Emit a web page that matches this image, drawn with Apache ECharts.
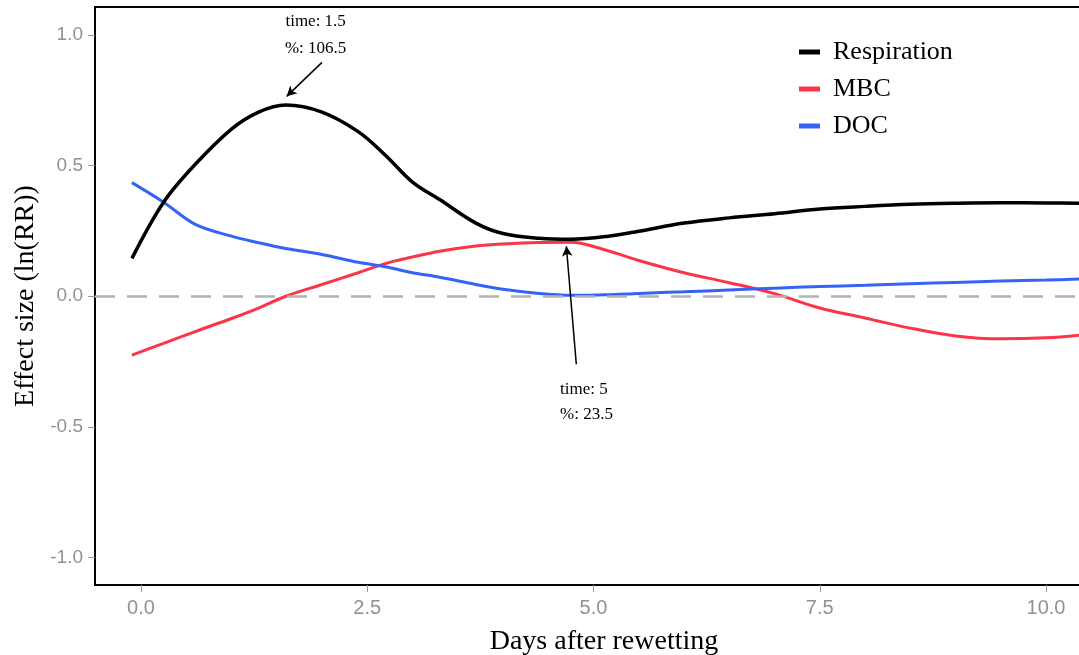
<!DOCTYPE html>
<html>
<head>
<meta charset="utf-8">
<script src="https://cdn.jsdelivr.net/npm/echarts@6/dist/echarts.min.js"></script>
<style>
  html, body { margin: 0; padding: 0; background: #fff; }
  #chart { width: 1079px; height: 655px; }
</style>
</head>
<body>
<div id="chart"></div>
<script>
// Days after rewetting (shared sampling for the fitted curves)
const days = [-0.1, 0.25, 0.6, 1.0, 1.3, 1.6, 2.0, 2.4, 2.7, 3.0, 3.3, 3.7, 4.0, 4.4, 4.75, 5.15, 5.5, 6.0, 6.5, 7.0, 7.5, 8.0, 8.5, 9.0, 9.5, 10.0, 10.4];

// Effect size ln(RR) per variable
const respiration = [0.145, 0.36, 0.505, 0.64, 0.705, 0.732, 0.705, 0.63, 0.54, 0.437, 0.37, 0.28, 0.24, 0.222, 0.218, 0.229, 0.249, 0.28, 0.30, 0.316, 0.334, 0.344, 0.352, 0.356, 0.358, 0.357, 0.356];
const mbc = [-0.225, -0.18, -0.135, -0.085, -0.045, 0.0, 0.045, 0.09, 0.125, 0.15, 0.172, 0.192, 0.2, 0.206, 0.207, 0.175, 0.137, 0.09, 0.052, 0.01, -0.045, -0.083, -0.122, -0.152, -0.163, -0.159, -0.148];
const doc = [0.435, 0.36, 0.275, 0.23, 0.205, 0.183, 0.16, 0.13, 0.113, 0.09, 0.073, 0.045, 0.027, 0.011, 0.004, 0.006, 0.011, 0.017, 0.024, 0.031, 0.037, 0.042, 0.048, 0.053, 0.058, 0.062, 0.066];

// Tick labels
const xTicks = [0, 2.5, 5, 7.5, 10];
const yTicks = [-1, -0.5, 0, 0.5, 1];

// Callouts: [text position, arrow tail, arrow head]
const peakNote = { text: 'time: 1.5\n%: 106.5', at: [1.93, 0.998], tail: [2.0, 0.895], head: [1.61, 0.765] };
const dipNote = { text: 'time: 5\n%: 23.5', at: [4.63, -0.405], tail: [4.81, -0.26], head: [4.70, 0.191] };

const serif = 'Liberation Serif';
const sans = "'Liberation Sans', sans-serif";

const pairs = ys => days.map((d, i) => [d, ys[i]]);

const chart = echarts.init(document.getElementById('chart'), null, { renderer: 'canvas' });

chart.setOption({
  backgroundColor: '#fff',
  animation: false,
  grid: {
    left: 95, right: -34, top: 7, bottom: 70,
    outerBoundsMode: 'none', containLabel: false,
    show: true, borderColor: '#000', borderWidth: 2, backgroundColor: 'transparent'
  },
  legend: {
    orient: 'vertical',
    left: 794, top: 34,
    itemWidth: 21, itemHeight: 5, itemGap: 11,
    icon: 'rect',
    textStyle: { fontFamily: serif, fontSize: 26, color: '#000', padding: [0, 0, 0, 8] },
    data: ['Respiration', 'MBC', 'DOC']
  },
  xAxis: {
    type: 'value',
    min: -0.508, max: 10.74,
    name: 'Days after rewetting',
    nameLocation: 'middle', nameGap: 43,
    nameTextStyle: { fontFamily: serif, fontSize: 28, color: '#000' },
    splitLine: { show: false },
    axisLine: { onZero: false, lineStyle: { color: '#000', width: 2 } },
    axisTick: { show: true, length: 7, lineStyle: { color: '#999', width: 1 }, customValues: xTicks },
    axisLabel: { customValues: xTicks, color: '#929292', fontFamily: sans, fontSize: 20, margin: 13,
      formatter: v => v.toFixed(1) }
  },
  yAxis: {
    type: 'value',
    min: -1.105, max: 1.107,
    name: 'Effect size (ln(RR))',
    nameLocation: 'middle', nameGap: 53, nameRotate: 90,
    nameTextStyle: { fontFamily: serif, fontSize: 28, color: '#000' },
    splitLine: { show: false },
    axisLine: { show: true, onZero: false, lineStyle: { color: '#000', width: 2 } },
    axisTick: { show: true, length: 7, lineStyle: { color: '#999', width: 1 }, customValues: yTicks },
    axisLabel: { customValues: yTicks, color: '#929292', fontFamily: sans, fontSize: 19, margin: 12,
      formatter: v => v.toFixed(1) }
  },
  series: [
    {
      name: 'Respiration', type: 'line', data: pairs(respiration),
      smooth: 0.35, showSymbol: false, z: 5,
      lineStyle: { color: '#000', width: 3.5 }, itemStyle: { color: '#000' },
      markLine: {
        silent: true, symbol: ['none', 'arrow'], symbolSize: [8, 10],
        lineStyle: { color: '#000', width: 1.5, type: 'solid' },
        label: { show: false },
        data: [
          [{ coord: peakNote.tail }, { coord: peakNote.head }],
          [{ coord: dipNote.tail }, { coord: dipNote.head }]
        ]
      },
      markPoint: {
        silent: true, symbol: 'circle', symbolSize: 0,
        data: [
          { coord: peakNote.at, label: { show: true, formatter: peakNote.text, position: 'inside',
            fontFamily: serif, fontSize: 17, color: '#000', lineHeight: 27, align: 'center' } },
          { coord: dipNote.at, label: { show: true, formatter: dipNote.text, position: 'right', distance: 0,
            fontFamily: serif, fontSize: 17, color: '#000', lineHeight: 25, align: 'left' } }
        ]
      }
    },
    {
      name: 'MBC', type: 'line', data: pairs(mbc),
      smooth: 0.35, showSymbol: false, z: 4,
      lineStyle: { color: '#fb3448', width: 3 }, itemStyle: { color: '#fb3448' }
    },
    {
      name: 'DOC', type: 'line', data: pairs(doc),
      smooth: 0.35, showSymbol: false, z: 4,
      lineStyle: { color: '#3663f7', width: 3 }, itemStyle: { color: '#3663f7' },
      markLine: {
        silent: true, symbol: 'none',
        lineStyle: { color: '#b3b3b3', width: 2.5, type: [20, 12] },
        label: { show: false },
        data: [{ yAxis: 0 }]
      }
    }
  ]
});
</script>
</body>
</html>
